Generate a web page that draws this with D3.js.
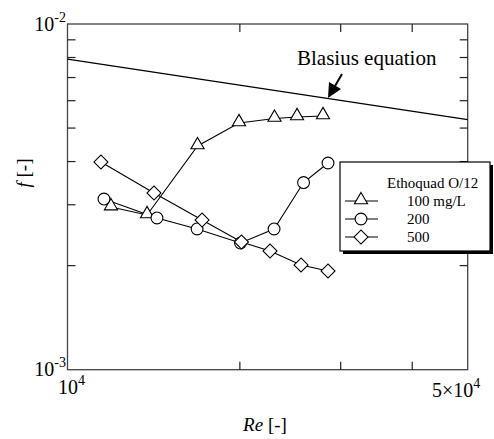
<!DOCTYPE html>
<html lang="en">
<head>
  <meta charset="utf-8">
  <script src="https://d3js.org/d3.v7.min.js"></script>
  <style>
    body { margin: 0; background: #fff; }
  </style>
</head>
<body>
  <svg id="chart"></svg>
  <script>
    // data
    var reTri = [11910, 13770, 16870, 19930, 22990, 25170, 27940];
    var fTri = [0.002955, 0.002803, 0.004437, 0.005172, 0.005329, 0.005383, 0.005419];
    var reCirc = [11580, 14330, 16840, 20050, 22950, 25840, 28510];
    var fCirc = [0.003117, 0.002747, 0.002553, 0.002325, 0.002553, 0.003478, 0.003962];
    var reDia = [11440, 14160, 17180, 20130, 22580, 25580, 28510];
    var fDia = [0.003989, 0.003245, 0.00271, 0.002341, 0.002205, 0.002009, 0.00193];
    var blasiusRe = [10000, 50000];
    var blasiusF = [0.00791, 0.00529];
    var xMinorTicks = [20000, 30000, 40000];
    var yMinorTicks = [0.002, 0.003, 0.004, 0.005, 0.006, 0.007, 0.008, 0.009];
    var legendLabels = ['100 mg/L', '200', '500'];

    var width = 494, height = 439;
    var margin = { left: 67.5, right: 26.3, top: 24, bottom: 69.3 };
    var serif = "'Liberation Serif', 'DejaVu Serif', 'Times New Roman', serif";

    var svg = d3.select('#chart').attr('width', width).attr('height', height)
      .attr('font-family', serif);

    var x = d3.scaleLog().domain([1e4, 5e4]).range([margin.left, width - margin.right]);
    var y = d3.scaleLog().domain([1e-3, 1e-2]).range([height - margin.bottom, margin.top]);

    var x0 = x.range()[0], x1 = x.range()[1], y0 = y.range()[0], y1 = y.range()[1];
    var tick = 8;

    // frame
    svg.append('rect')
      .attr('x', x0).attr('y', y1)
      .attr('width', x1 - x0).attr('height', y0 - y1)
      .attr('fill', 'none').attr('stroke', '#444').attr('stroke-width', 1.3);

    // inward ticks
    var ticks = svg.append('g').attr('stroke', '#222').attr('stroke-width', 1.2);
    xMinorTicks.forEach(function (v) {
      ticks.append('line').attr('x1', x(v)).attr('x2', x(v)).attr('y1', y0).attr('y2', y0 - tick);
      ticks.append('line').attr('x1', x(v)).attr('x2', x(v)).attr('y1', y1).attr('y2', y1 + tick);
    });
    yMinorTicks.forEach(function (v) {
      ticks.append('line').attr('x1', x0).attr('x2', x0 + tick).attr('y1', y(v)).attr('y2', y(v));
      ticks.append('line').attr('x1', x1).attr('x2', x1 - tick).attr('y1', y(v)).attr('y2', y(v));
    });

    // power-of-ten labels
    function powLabel(px, py, base, exp, anchor) {
      var t = svg.append('text').attr('x', px).attr('y', py)
        .attr('text-anchor', anchor).attr('font-size', 20);
      t.append('tspan').text(base);
      t.append('tspan').attr('dy', -9).attr('font-size', 14).text(exp);
      return t;
    }
    powLabel(66, 31, '10', '-2', 'end');
    powLabel(66, 376, '10', '-3', 'end');
    powLabel(58, 394, '10', '4', 'start');
    powLabel(432, 397, '5\u00d710', '4', 'start');

    // axis titles
    var xt = svg.append('text').attr('x', 265).attr('y', 431).attr('text-anchor', 'middle')
      .attr('font-size', 19);
    xt.append('tspan').attr('font-style', 'italic').text('Re');
    xt.append('tspan').text(' [-]');

    var yt = svg.append('text').attr('transform', 'translate(30,173) rotate(-90)')
      .attr('text-anchor', 'middle').attr('font-size', 19);
    yt.append('tspan').attr('font-style', 'italic').text('f');
    yt.append('tspan').text('  [-]');

    // Blasius line
    var line = d3.line().x(function (d) { return x(d[0]); }).y(function (d) { return y(d[1]); });
    svg.append('path')
      .datum(d3.zip(blasiusRe, blasiusF))
      .attr('d', line).attr('fill', 'none').attr('stroke', '#000').attr('stroke-width', 1.2);

    svg.append('text').attr('x', 297).attr('y', 65).attr('font-size', 21).text('Blasius equation');

    // arrow
    svg.append('line').attr('x1', 342).attr('y1', 74).attr('x2', 335).attr('y2', 86)
      .attr('stroke', '#000').attr('stroke-width', 2);
    svg.append('path').attr('d', 'M328,98 L329,82 L341,89 Z').attr('fill', '#000');

    // series
    var sym = {
      tri: d3.symbol().type(d3.symbolTriangle).size(75),
      circ: d3.symbol().type(d3.symbolCircle).size(110),
      dia: d3.symbol().type(d3.symbolSquare).size(98)
    };
    function markerPath(g, kind, px, py) {
      var p = g.append('path').attr('d', sym[kind]()).attr('fill', '#fff')
        .attr('stroke', '#000').attr('stroke-width', 1.1);
      if (kind === 'dia') p.attr('transform', 'translate(' + px + ',' + py + ') rotate(45)');
      else if (kind === 'tri') p.attr('transform', 'translate(' + px + ',' + (py - 1) + ')');
      else p.attr('transform', 'translate(' + px + ',' + py + ')');
    }

    var series = [
      { kind: 'tri', re: reTri, f: fTri },
      { kind: 'circ', re: reCirc, f: fCirc },
      { kind: 'dia', re: reDia, f: fDia }
    ];
    series.forEach(function (s) {
      var pts = d3.zip(s.re, s.f);
      svg.append('path').datum(pts).attr('d', line)
        .attr('fill', 'none').attr('stroke', '#000').attr('stroke-width', 1.1);
    });
    series.forEach(function (s) {
      var g = svg.append('g');
      d3.zip(s.re, s.f).forEach(function (d) { markerPath(g, s.kind, x(d[0]), y(d[1])); });
    });

    // legend
    var lg = svg.append('g');
    lg.append('rect').attr('x', 343).attr('y', 165).attr('width', 150).attr('height', 89).attr('fill', '#000');
    lg.append('rect').attr('x', 340).attr('y', 162).attr('width', 150).attr('height', 89)
      .attr('fill', '#fff').attr('stroke', '#000').attr('stroke-width', 1.2);
    lg.append('text').attr('x', 387).attr('y', 188).attr('font-size', 15).text('Ethoquad O/12');
    series.forEach(function (s, i) {
      var ly = 201 + i * 18;
      lg.append('line').attr('x1', 345).attr('x2', 378).attr('y1', ly).attr('y2', ly)
        .attr('stroke', '#000').attr('stroke-width', 1.1);
      markerPath(lg, s.kind, 361, ly);
      lg.append('text').attr('x', 407).attr('y', ly + 5).attr('font-size', 15).text(legendLabels[i]);
    });
  </script>
</body>
</html>
